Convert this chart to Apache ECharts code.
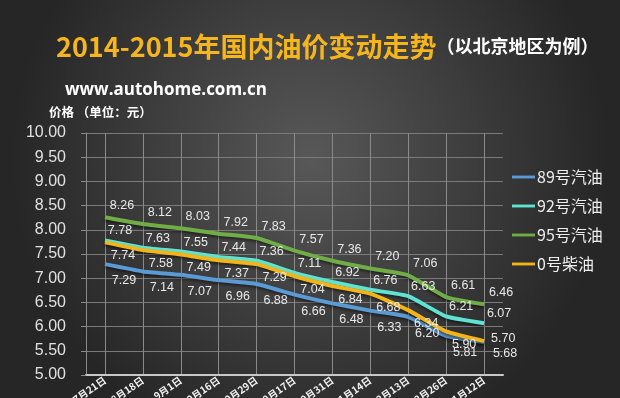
<!DOCTYPE html>
<html>
<head>
<meta charset="utf-8">
<style>
  html, body { margin: 0; padding: 0; background: #333; }
  #chart { width: 620px; height: 398px; }
</style>
<script src="https://cdn.jsdelivr.net/npm/echarts@6/dist/echarts.min.js"></script>
</head>
<body>
<div id="chart"></div>
<script>
// 调价日期
var dates = ['7月21日', '8月18日', '9月1日', '9月16日', '9月29日', '10月17日',
  '10月31日', '11月14日', '12月13日', '12月26日', '1月12日'];
var oil89 = [7.29, 7.14, 7.07, 6.96, 6.88, 6.66, 6.48, 6.33, 6.20, 5.81, 5.68];
var oil92 = [7.78, 7.63, 7.55, 7.44, 7.36, 7.11, 6.92, 6.76, 6.63, 6.21, 6.07];
var oil95 = [8.26, 8.12, 8.03, 7.92, 7.83, 7.57, 7.36, 7.20, 7.06, 6.61, 6.46];
var diesel0 = [7.74, 7.58, 7.49, 7.37, 7.29, 7.04, 6.84, 6.68, 6.34, 5.90, 5.70];
var seriesNames = ['89号汽油', '92号汽油', '95号汽油', '0号柴油'];

var colors = ['#5b9bd5', '#5fe3d3', '#70ad47', '#f2b418'];
var font = '"Noto Sans CJK SC", "Liberation Sans", sans-serif';

// 末端标签位置单独调整，避免重叠
function makeSeries(name, data, color, pos, offset, lastLabel) {
  var items = data.map(function (v, i) {
    if (lastLabel && i === data.length - 1) {
      return { value: v, label: lastLabel };
    }
    return v;
  });
  return {
    name: name,
    type: 'line',
    data: items,
    symbol: 'circle',
    symbolSize: 0,
    showSymbol: true,
    smooth: 0.15,
    lineStyle: {
      width: 4,
      color: color,
      shadowBlur: 3,
      shadowColor: 'rgba(0,0,0,0.5)',
      shadowOffsetY: 2
    },
    itemStyle: { color: color },
    label: {
      show: true,
      position: pos,
      offset: offset,
      color: '#e8e8e8',
      fontSize: 12.5,
      fontFamily: '"Liberation Sans", sans-serif',
      formatter: function (p) { return p.value.toFixed(2); }
    },
    z: 3
  };
}

var chart = echarts.init(document.getElementById('chart'));
chart.setOption({
  backgroundColor: new echarts.graphic.RadialGradient(0.5, 0.4, 0.75, [
    { offset: 0, color: '#585858' },
    { offset: 1, color: '#262626' }
  ]),
  animation: false,
  title: [
    {
      text: '{y|2014-2015年国内油价变动走势}{w|（以北京地区为例）}',
      left: 56,
      top: 33,
      padding: 0,
      textStyle: {
        rich: {
          y: { color: '#f5b51e', fontSize: 27, fontWeight: 'bold', fontFamily: font },
          w: { color: '#ffffff', fontSize: 18, fontWeight: 'bold', fontFamily: font }
        }
      }
    },
    {
      text: 'www.autohome.com.cn',
      left: 65,
      top: 82,
      padding: 0,
      textStyle: { color: '#ffffff', fontSize: 17, fontWeight: 'bold', fontFamily: '"Open Sans", sans-serif' }
    },
    {
      text: '{b|价格}{n| （单位：元）}',
      left: 49,
      top: 106,
      padding: 0,
      textStyle: {
        rich: {
          b: { color: '#ffffff', fontSize: 12.5, fontWeight: 'bold', fontFamily: font },
          n: { color: '#ffffff', fontSize: 12.5, fontFamily: font }
        }
      }
    }
  ],
  legend: {
    orient: 'vertical',
    left: 512,
    top: 169,
    padding: 0,
    itemWidth: 23,
    itemHeight: 14,
    itemGap: 13,
    icon: 'path://M0,0 M0,5.5 L24,5.5 L24,8.5 L0,8.5 Z M24,14',
    textStyle: { color: '#eeeeee', fontSize: 16, fontFamily: font, padding: [0, 0, 0, -3] },
    data: seriesNames
  },
  grid: { left: 86, right: 117, top: 133, bottom: 23, outerBoundsMode: 'none' },
  xAxis: {
    type: 'category',
    data: dates,
    boundaryGap: true,
    axisLine: { lineStyle: { color: '#c8c8c8', width: 2 } },
    axisTick: { show: false },
    axisLabel: {
      rotate: 35,
      interval: 0,
      margin: 4,
      color: '#f0f0f0',
      fontSize: 10,
      fontWeight: 'bold',
      fontFamily: font
    },
    splitLine: { show: true, alignWithLabel: true, lineStyle: { color: '#8a8a8a', width: 1 } }
  },
  yAxis: {
    type: 'value',
    min: 5,
    max: 10,
    interval: 0.5,
    axisLine: { show: true, lineStyle: { color: '#8a8a8a', width: 1 } },
    axisTick: { show: true, length: 5, lineStyle: { color: '#8a8a8a' } },
    axisLabel: {
      margin: 20,
      color: '#e0e0e0',
      fontSize: 16,
      fontFamily: '"Liberation Sans", sans-serif',
      formatter: function (v) { return v.toFixed(2); }
    },
    splitLine: { lineStyle: { color: '#7a7a7a', width: 1 } }
  },
  series: [
    makeSeries(seriesNames[0], oil89, colors[0], 'bottom', [19, 5], { position: 'bottom', offset: [21, 0] }),
    makeSeries(seriesNames[1], oil92, colors[1], 'top', [15, 2]),
    makeSeries(seriesNames[2], oil95, colors[2], 'top', [17, 0]),
    makeSeries(seriesNames[3], diesel0, colors[3], 'bottom', [18, 2], { position: 'right', offset: [2, -3] })
  ]
});
</script>
</body>
</html>
